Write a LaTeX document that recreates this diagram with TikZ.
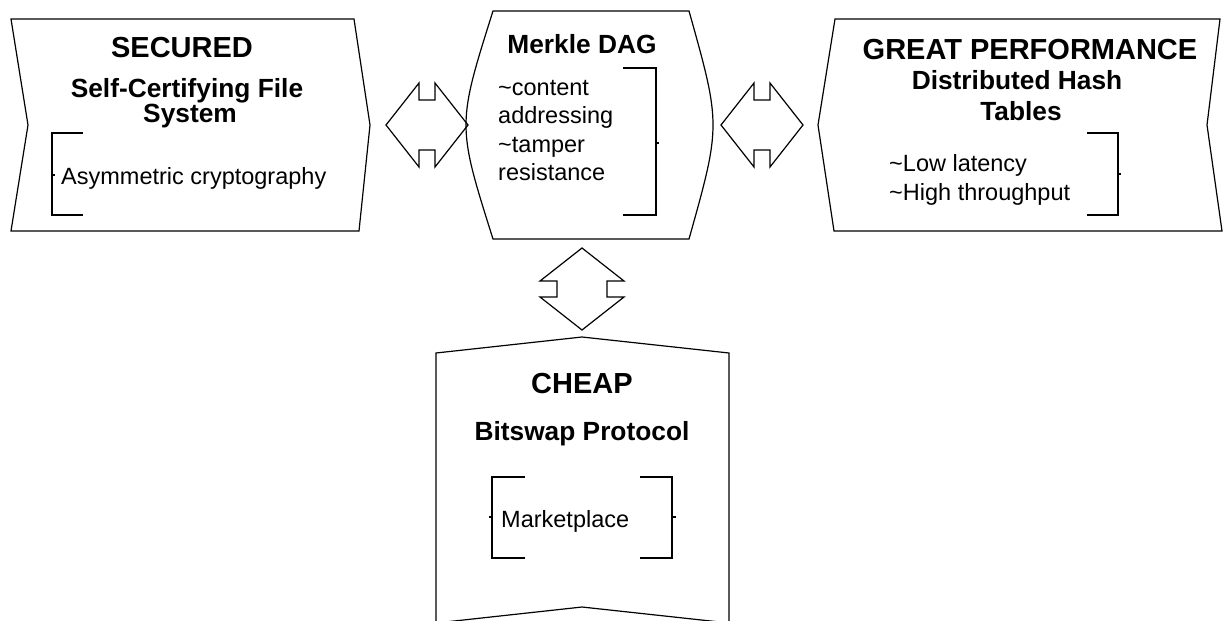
\documentclass[tikz,border=0pt]{standalone}
\usepackage{fontspec}
\setmainfont{Liberation Sans}
\begin{document}
\begin{tikzpicture}[x=1pt,y=-1pt,line join=miter,
  outline/.style={draw=black,line width=1.2pt},
  bracketline/.style={draw=black,line width=1.2pt},
  headtext/.style={font=\bfseries\fontsize{29}{34}\selectfont,anchor=base,inner sep=0pt},
  subtext/.style={font=\bfseries\fontsize{26.3}{31}\selectfont,anchor=base,inner sep=0pt},
  bodytext/.style={font=\fontsize{23.5}{28}\selectfont,anchor=base west,inner sep=0pt},
  pics/bidir/.style={code={
    \draw[outline] (-41,0) -- (-8,-42) -- (-8,-25) -- (8,-25) -- (8,-42) -- (41,0)
      -- (8,42) -- (8,25) -- (-8,25) -- (-8,42) -- cycle;}}]
\fill[white] (0,0) rectangle (1226,621);
\clip (0,0) rectangle (1226,621);

% left panel: SECURED
\draw[outline] (11,19) -- (354,19) -- (370,125) -- (359,231) -- (11,231) -- (28,125) -- cycle;
\node[headtext] (secured) at (182,57) {SECURED};
\node[subtext] (sfs1) at (187,97) {Self-Certifying File};
\node[subtext] (sfs2) at (190,122) {System};
\draw[bracketline] (83,133) -- (52,133) -- (52,215) -- (83,215);
\draw[bracketline] (52,175) -- (55,175);
\node[bodytext] (asym) at (61,184) {Asymmetric cryptography};

% centre panel: Merkle DAG
\draw[outline] (493,11) -- (689,11) .. controls (721,125) .. (689,239)
  -- (493,239) .. controls (457,125) .. (493,11) -- cycle;
\node[subtext] (merkle) at (582,53) {Merkle DAG};
\node[bodytext] (m1) at (498,95) {\textasciitilde content};
\node[bodytext] (m2) at (498,123) {addressing};
\node[bodytext] (m3) at (498,152) {\textasciitilde tamper};
\node[bodytext] (m4) at (498,180) {resistance};
\draw[bracketline] (623,68) -- (656,68) -- (656,215) -- (623,215);
\draw[bracketline] (656,143) -- (659,143);

% right panel: GREAT PERFORMANCE
\draw[outline] (835,19) -- (1220,19) -- (1207,125) -- (1222,231) -- (834,231) -- (818,125) -- cycle;
\node[headtext] (perf) at (1030,59) {GREAT PERFORMANCE};
\node[subtext] (dht1) at (1017,89) {Distributed Hash};
\node[subtext] (dht2) at (1021,120) {Tables};
\node[bodytext] (p1) at (889,171) {\textasciitilde Low latency};
\node[bodytext] (p2) at (889,200) {\textasciitilde High throughput};
\draw[bracketline] (1087,133) -- (1118,133) -- (1118,215) -- (1087,215);
\draw[bracketline] (1118,174) -- (1121,174);

% bottom panel: CHEAP
\draw[outline] (436,353) -- (582,337) -- (729,353) -- (729,623) -- (582,607) -- (436,623) -- cycle;
\node[headtext] (cheap) at (582,393) {CHEAP};
\node[subtext] (bitswap) at (582,440) {Bitswap Protocol};
\draw[bracketline] (525,477) -- (492,477) -- (492,558) -- (525,558);
\draw[bracketline] (492,517) -- (489,517);
\draw[bracketline] (640,477) -- (672,477) -- (672,558) -- (640,558);
\draw[bracketline] (672,517) -- (676,517);
\node[bodytext] (market) at (501,527) {Marketplace};

% two-way block arrows between the panels
\pic at (427,125) {bidir};
\pic at (762,125) {bidir};
\pic[rotate=90] at (582,289) {bidir};
\end{tikzpicture}
\end{document}
